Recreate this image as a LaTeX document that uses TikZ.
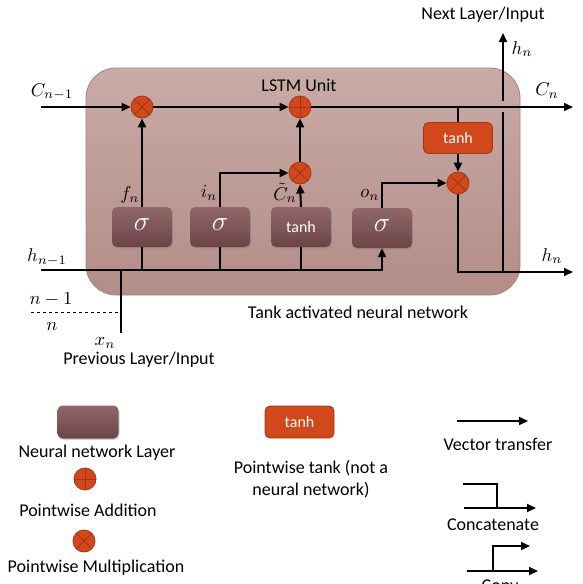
\documentclass[tikz,border=0pt]{standalone}
\usepackage{graphicx}
\usepackage{fontspec}
\setmainfont{Carlito}
\usetikzlibrary{arrows.meta,shadows}
\newcommand{\mlbl}[1]{\scalebox{1.85}{$#1$}}
\definecolor{orfill}{RGB}{210,72,26}
\definecolor{ordraw}{RGB}{165,52,20}
\definecolor{nntop}{RGB}{145,103,105}
\definecolor{nnbot}{RGB}{108,68,72}
\definecolor{unittop}{RGB}{201,171,166}
\definecolor{unitbot}{RGB}{179,141,135}
\definecolor{unitdraw}{RGB}{168,128,122}
\tikzset{
  lnk/.style={line width=2pt},
  arr/.style={lnk,-{Triangle[length=9pt,width=8pt]}},
  unitbox/.style={draw=unitdraw,line width=0.8pt,rounded corners=30pt,top color=unittop,bottom color=unitbot,minimum width=434pt,minimum height=227pt},
  nnbox/.style={rounded corners=5pt,top color=nntop,bottom color=nnbot,minimum width=60pt,minimum height=40pt,text=white,font=\fontsize{16}{18}\selectfont,
    drop shadow={opacity=0.35,shadow xshift=1pt,shadow yshift=-1.5pt}},
  orbox/.style={draw=ordraw,line width=0.8pt,rounded corners=5pt,fill=orfill,minimum width=69pt,minimum height=31pt,text=white,font=\fontsize{16}{18}\selectfont},
  opcirc/.style={circle,draw=ordraw,line width=0.8pt,fill=orfill,minimum size=22pt,inner sep=0pt},
  mult/.style={opcirc,path picture={\draw[ordraw,line width=0.9pt] (path picture bounding box.north west) -- (path picture bounding box.south east) (path picture bounding box.north east) -- (path picture bounding box.south west);}},
  plus/.style={opcirc,path picture={\draw[ordraw,line width=0.9pt] (path picture bounding box.north) -- (path picture bounding box.south) (path picture bounding box.west) -- (path picture bounding box.east);}},
  txt/.style={font=\fontsize{18}{21}\selectfont,inner sep=0pt},
  mth/.style={inner sep=0pt},
}
\begin{document}
\begin{tikzpicture}[x=1pt,y=-1pt]
\useasboundingbox (0,0) rectangle (583,584);
% unit
\node[unitbox] (unit) at (303,181.5) {};
% operators
\node[mult] (fm) at (142,107) {};
\node[plus] (ad) at (300,107) {};
\node[mult] (im) at (300,173) {};
\node[mult] (om) at (458,183) {};
\node[orbox] (otanh) at (458,138) {tanh};
% layers
\node[nnbox] (fbox) at (142,227) {\raisebox{4pt}{\scalebox{1.6}{$\sigma$}}};
\node[nnbox] (ibox) at (220,227) {\raisebox{4pt}{\scalebox{1.6}{$\sigma$}}};
\node[nnbox] (tbox) at (301,227) {tanh};
\node[nnbox] (obox) at (382,228) {\raisebox{4pt}{\scalebox{1.6}{$\sigma$}}};
% coordinates
\coordinate (cin) at (41,107);
\coordinate (cout) at (573,107);
\coordinate (hin) at (41,270);
\coordinate (hturn) at (382,270);
\coordinate (xin) at (121,333);
\coordinate (tap) at (458,107);
\coordinate (hout) at (573,272);
\coordinate (hb) at (503,272);
\coordinate (g1) at (503,112);
\coordinate (g2) at (503,101);
\coordinate (hup) at (503,33);
\coordinate (dl) at (31,312);
\coordinate (dr) at (121,312);
% connectors
\draw[arr] (cin) -- (fm.west);
\draw[arr] (fm.east) -- (ad.west);
\draw[arr] (ad.east) -- (cout);
\draw[lnk] (tap) -- (otanh.north);
\draw[arr] (otanh.south) -- (om.north);
\draw[arr] (fbox.north) -- (fm.south);
\draw[arr] (ibox.north) |- (im.west);
\draw[arr] (tbox.north) -- (im.south);
\draw[arr] (im.north) -- (ad.south);
\draw[arr] (obox.north) |- (om.west);
\draw[arr] (hin) -- (hturn) -- (obox.south);
\draw[lnk] (fbox.south) -- (fbox.south |- hin);
\draw[lnk] (ibox.south) -- (ibox.south |- hin);
\draw[lnk] (tbox.south) -- (tbox.south |- hin);
\draw[lnk] (xin) -- (xin |- hin);
\draw[arr] (om.south) |- (hout);
\draw[lnk] (hb) -- (g1);
\draw[arr] (g2) -- (hup);
\draw[dashed,line width=0.8pt] (dl) -- (dr);
% labels
\node[txt] (lnext) at (483,15) {Next Layer/Input};
\node[txt] (lunit) at (299,85) {LSTM Unit};
\node[txt] (ltank) at (358,312) {Tank activated neural network};
\node[txt] (lprev) at (139,360) {Previous Layer/Input};
\node[mth] (lcin) at (52,92) {\mlbl{C_{n-1}}};
\node[mth] (lcout) at (547,91) {\mlbl{C_n}};
\node[mth] (lhup) at (522,49) {\mlbl{h_n}};
\node[mth] (lf) at (130,195) {\mlbl{f_n}};
\node[mth] (li) at (209,193) {\mlbl{i_n}};
\node[mth] (lct) at (285,193) {\mlbl{\tilde{C}_n}};
\node[mth] (lo) at (370,195) {\mlbl{o_n}};
\node[mth] (lhin) at (47,257) {\mlbl{h_{n-1}}};
\node[mth] (lhout) at (552,256) {\mlbl{h_n}};
\node[mth] (lnm) at (51,299) {\mlbl{n-1}};
\node[mth] (ln) at (52,327) {\mlbl{n}};
\node[mth] (lx) at (105,343) {\mlbl{x_n}};
% legend
\node[nnbox,minimum width=61pt,minimum height=33pt] (gnn) at (88,422) {};
\node[txt] (tnn) at (97,453) {Neural network Layer};
\node[plus] (gad) at (85,479) {};
\node[txt] (tad) at (88,510) {Pointwise Addition};
\node[mult] (gml) at (84,541) {};
\node[txt] (tml) at (96,568) {Pointwise Multiplication};
\node[orbox,minimum height=32pt] (gtanh) at (299.5,422) {tanh};
\node[txt,align=center] (ttanh) at (311,479) {Pointwise tank (not a\\[1pt]neural network)};
\coordinate (v1) at (457,421);
\coordinate (v2) at (528,421);
\draw[arr] (v1) -- (v2);
\node[txt] (tv) at (498,444) {Vector transfer};
\coordinate (c1) at (463,484);
\coordinate (c2) at (497,484);
\coordinate (c3) at (464,508);
\coordinate (c4) at (536,508);
\draw[lnk] (c1) -- (c2) -- (c2 |- c3);
\draw[arr] (c3) -- (c4);
\node[txt] (tc) at (493,525) {Concatenate};
\coordinate (p1) at (467,571);
\coordinate (p2) at (538,571);
\coordinate (p3) at (493,571);
\coordinate (p4) at (530,546);
\draw[arr] (p1) -- (p2);
\draw[arr] (p3) |- (p4);
\node[txt] (tp) at (500,587) {Copy};
\end{tikzpicture}
\end{document}
